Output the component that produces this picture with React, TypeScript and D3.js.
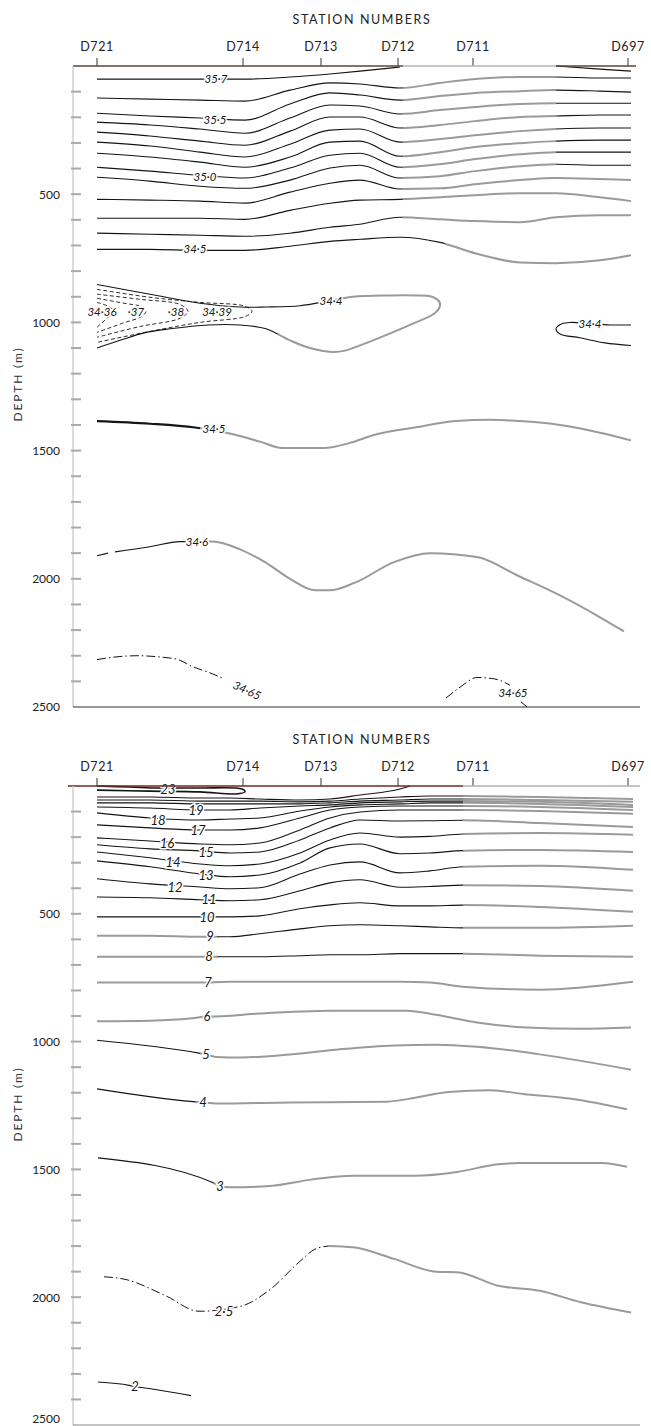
import React from 'react';
import * as d3 from 'd3';

const W = 651;
const H = 1426;
const FONT = "Lato, 'Open Sans', 'DejaVu Sans', sans-serif";

// ---------- stations (distance along section, km) ----------
const stationNames = ['D721', 'D714', 'D713', 'D712', 'D711', 'D697'];
const stationKm = [0, 146, 224, 301, 376, 531];
const depthTickLabels = [500, 1000, 1500, 2000, 2500];

// ---------- upper panel: salinity isolines (depth in m at each km) ----------
const salColKm = [0, 53, 103, 148, 193, 233, 263, 303, 343, 378, 423, 459, 503, 534];
const sal357aKm = [0, 53, 103, 148, 193, 233, 263, 303];
const sal357a = [51, 51, 51, 51, 43, 31, 20, 4];
const sal357bKm = [459, 503, 534];
const sal357b = [0, 12, 20];
const sal356 = [125, 129, 133, 137, 94, 66, 70, 86, 66, 51, 43, 43, 47, 47];
const sal355 = [184, 195, 203, 211, 148, 105, 113, 133, 117, 105, 98, 94, 98, 102];
const sal354 = [219, 230, 246, 262, 203, 152, 156, 187, 172, 160, 148, 145, 145, 145];
const sal353 = [258, 273, 293, 309, 254, 199, 199, 242, 230, 215, 199, 195, 191, 191];
const sal352 = [297, 312, 336, 355, 305, 250, 246, 297, 285, 270, 254, 246, 242, 242];
const sal351 = [340, 355, 375, 395, 355, 297, 293, 352, 336, 316, 301, 293, 289, 289];
const sal350 = [395, 410, 426, 437, 398, 348, 340, 395, 383, 363, 344, 336, 336, 336];
const sal349 = [434, 449, 469, 477, 445, 398, 387, 437, 430, 410, 391, 383, 387, 387];
const sal348 = [520, 523, 527, 535, 492, 457, 445, 480, 477, 461, 445, 437, 441, 445];
const sal347 = [594, 594, 594, 598, 563, 535, 523, 520, 512, 504, 496, 496, 512, 527];
const sal346 = [652, 656, 660, 664, 652, 629, 617, 590, 598, 605, 609, 590, 582, 582];
const sal345 = [715, 715, 719, 719, 703, 684, 676, 668, 688, 730, 766, 769, 758, 738];

const sal344LoopKm = [0, 53, 103, 143, 169, 203, 233, 256, 293, 318, 335, 343, 339, 313, 276, 248, 235, 213, 193, 169, 143, 111, 73, 48, 23, 0];
const sal344Loop = [852, 890, 925, 940, 940, 935, 915, 900, 895, 895, 900, 925, 960, 1010, 1070, 1110, 1115, 1100, 1070, 1025, 1010, 1010, 1025, 1040, 1070, 1100];
const sal344RightKm = [534, 513, 493, 474, 465, 459, 463, 483, 508, 534];
const sal344Right = [1010, 1010, 1005, 1000, 1005, 1025, 1045, 1060, 1080, 1090];

const sal3439Km = [0, 53, 103, 148, 155, 148, 103, 53, 0];
const sal3439 = [871, 902, 922, 937, 957, 977, 1000, 1035, 1078];
const sal3438Km = [0, 43, 83, 91, 83, 43, 0];
const sal3438 = [890, 910, 930, 957, 984, 1016, 1058];
const sal3437Km = [0, 28, 43, 49, 43, 28, 0];
const sal3437 = [906, 926, 937, 957, 980, 1000, 1039];
const sal3436Km = [0, 11, 17, 11, 0];
const sal3436 = [922, 937, 957, 980, 1019];

const sal345DeepKm = [0, 53, 98, 135, 163, 185, 227, 253, 276, 318, 359, 393, 422, 463, 503, 534];
const sal345Deep = [1385, 1395, 1410, 1435, 1465, 1490, 1490, 1470, 1440, 1410, 1385, 1380, 1385, 1400, 1430, 1460];
const sal346aKm = [0, 11];
const sal346a = [1910, 1900];
const sal346bKm = [18, 53, 83, 115, 143, 168, 193, 218, 233, 258, 297, 333, 380, 422, 463, 503, 527];
const sal346b = [1895, 1875, 1855, 1855, 1885, 1935, 2000, 2045, 2045, 2015, 1935, 1900, 1915, 1990, 2065, 2150, 2205];
const sal3465aKm = [0, 18, 40, 63, 81, 94, 115, 127];
const sal3465a = [2315, 2305, 2300, 2305, 2315, 2340, 2370, 2390];
const sal3465bKm = [349, 364, 380, 397, 413];
const sal3465b = [2465, 2420, 2385, 2390, 2415];
const sal3465cKm = [424, 430];
const sal3465c = [2480, 2500];

const salLabelText = ['35·7', '35·5', '35·0', '34·5', '34·36', '·37', '·38', '34·39', '34·4', '34·4', '34·5', '34·6', '34·65', '34·65'];
const salLabelKm = [119, 118, 108, 98, 5, 39, 79, 120, 234, 493, 117, 100, 150, 416];
const salLabelDepth = [51, 211, 434, 715, 960, 960, 960, 960, 915, 1005, 1415, 1855, 2435, 2445];

// ---------- lower panel: temperature isotherms ----------
const tmpColKm = [0, 53, 103, 133, 163, 203, 233, 263, 303, 333, 366, 443, 536];
const t23Km = [0, 33, 63, 103, 145, 148, 139, 103, 53, 0];
const t23 = [0, 4, 8, 8, 12, 23, 31, 23, 20, 16];
const t22Km = [0, 53, 103, 133, 163, 203, 233, 263, 303, 313];
const t22 = [43, 43, 47, 47, 51, 55, 51, 35, 12, 0];
const t21 = [55, 55, 59, 59, 59, 62, 59, 51, 43, 39, 39, 43, 51];
const t20 = [66, 66, 70, 70, 70, 70, 66, 59, 55, 51, 51, 55, 62];
const t19 = [82, 86, 94, 94, 86, 78, 74, 66, 62, 59, 59, 62, 74];
const t18 = [105, 125, 133, 129, 125, 98, 82, 74, 70, 66, 66, 70, 82];
const t17 = [152, 164, 172, 172, 164, 125, 94, 82, 78, 78, 78, 82, 94];
const t16 = [203, 215, 227, 230, 223, 172, 125, 102, 94, 94, 94, 98, 109];
const t15 = [230, 246, 254, 262, 258, 211, 164, 133, 137, 136, 134, 145, 160];
const t14 = [258, 281, 305, 312, 305, 262, 211, 184, 200, 197, 188, 184, 191];
const t13 = [293, 316, 344, 355, 348, 301, 242, 227, 265, 262, 253, 250, 258];
const t12 = [363, 383, 395, 402, 398, 344, 309, 297, 340, 332, 316, 312, 328];
const t11 = [434, 437, 445, 449, 445, 410, 379, 367, 396, 393, 388, 391, 410];
const t10 = [512, 512, 512, 512, 508, 480, 465, 457, 469, 469, 466, 473, 492];
const t9 = [586, 586, 590, 590, 578, 559, 547, 543, 547, 551, 555, 555, 547];
const t8 = [668, 668, 668, 668, 668, 664, 660, 660, 656, 656, 656, 664, 668];
const t7 = [769, 769, 769, 766, 766, 766, 766, 766, 766, 769, 785, 797, 766];
const t6Km = [0, 53, 93, 110, 119, 163, 235, 310, 339, 380, 430, 483, 534];
const t6 = [920, 918, 910, 902, 902, 890, 879, 879, 895, 925, 945, 950, 945];
const t5Km = [0, 102, 109, 119, 144, 193, 243, 297, 339, 380, 443, 534];
const t5 = [995, 1045, 1050, 1060, 1062, 1050, 1030, 1015, 1012, 1020, 1050, 1110];
const t4Km = [0, 96, 106, 119, 193, 290, 318, 351, 393, 426, 476, 530];
const t4 = [1185, 1235, 1238, 1242, 1238, 1235, 1220, 1197, 1190, 1205, 1225, 1265];
const t3Km = [1, 115, 123, 133, 173, 214, 256, 318, 360, 401, 422, 505, 530];
const t3 = [1455, 1550, 1565, 1570, 1565, 1540, 1525, 1525, 1510, 1480, 1475, 1475, 1490];
const t25Km = [7, 28, 69, 102, 144, 173, 202, 218, 231, 256, 297, 339, 360, 401, 443, 484, 534];
const t25 = [1920, 1930, 1995, 2055, 2035, 1970, 1863, 1812, 1800, 1805, 1850, 1900, 1902, 1955, 1975, 2020, 2060];
const t2Km = [1, 32, 38, 48, 94];
const t2 = [2332, 2345, 2350, 2355, 2385];

const tmpLabelText = ['23', '19', '18', '17', '16', '15', '14', '13', '12', '11', '10', '9', '8', '7', '6', '5', '4', '3', '2·5', '2'];
const tmpLabelKm = [71, 99, 61, 101, 70, 109, 76, 109, 78, 112, 110, 113, 112, 111, 110, 109, 106, 123, 127, 38];
const tmpLabelDepth = [12, 94, 133, 172, 223, 258, 297, 348, 395, 445, 512, 590, 668, 769, 902, 1050, 1238, 1566, 2055, 2350];

// ---------- scales ----------
const xS = d3.scaleLinear().domain([0, 531]).range([97, 628]);
const yTopS = d3.scaleLinear().domain([0, 2500]).range([66, 707]);
const yBotS = d3.scaleLinear().domain([0, 2500]).range([786, 1425]);

type Pt = [number, number];
type Series = { km: number[]; d: number[]; loop?: boolean; inkW?: number };
type Lbl = { t: string; km: number; d: number; rot?: number };

function makePath(s: Series, yS: d3.ScaleLinear<number, number>): string {
  const pts: Pt[] = s.km.map((k, i) => [k, s.d[i]] as Pt);
  const gen = d3
    .line<Pt>()
    .x((p) => xS(p[0]))
    .y((p) => yS(p[1]))
    .curve(s.loop ? d3.curveCatmullRom.alpha(0.5) : d3.curveMonotoneX);
  return gen(pts) || '';
}

const sl = (km: number[], d: number[], i0: number, i1: number): Series => ({ km: km.slice(i0, i1), d: d.slice(i0, i1) });

const topSolid: Series[] = [
  { km: sal357aKm, d: sal357a },
  { km: sal357bKm, d: sal357b },
  ...[sal356, sal355, sal354, sal353, sal352, sal351, sal350, sal349, sal348, sal347, sal346, sal345].map((d) => ({ km: salColKm, d })),
  { km: sal344LoopKm, d: sal344Loop, loop: true },
  { km: sal344RightKm, d: sal344Right, loop: true },
  { km: sal345DeepKm, d: sal345Deep, inkW: 2.1 },
  { km: sal346aKm, d: sal346a },
  { km: sal346bKm, d: sal346b },
];
const topDashed: Series[] = [
  { km: sal3439Km, d: sal3439, loop: true },
  { km: sal3438Km, d: sal3438, loop: true },
  { km: sal3437Km, d: sal3437, loop: true },
  { km: sal3436Km, d: sal3436, loop: true },
];
const topDashDot: Series[] = [
  { km: sal3465aKm, d: sal3465a },
  { km: sal3465bKm, d: sal3465b },
  { km: sal3465cKm, d: sal3465c },
];
const topLabels: Lbl[] = salLabelText.map((t, i) => ({ t, km: salLabelKm[i], d: salLabelDepth[i], rot: i === 12 ? 25 : 0 }));

const botSolid: Series[] = [
  { km: t23Km, d: t23, loop: true, inkW: 1.6 },
  { km: t22Km, d: t22 },
  ...[t21, t20, t19, t18, t17, t16, t15, t14, t13, t12, t11, t10, t9, t8, t7].map((d) => ({ km: tmpColKm, d })),
  { km: t6Km, d: t6 },
  { km: t5Km, d: t5 },
  { km: t4Km, d: t4 },
  { km: t3Km, d: t3 },
  { km: t2Km, d: t2 },
  sl(t25Km, t25, 8, t25Km.length),
];
const botDashDot: Series[] = [sl(t25Km, t25, 0, 9)];
const botLabels: Lbl[] = tmpLabelText.map((t, i) => ({ t, km: tmpLabelKm[i], d: tmpLabelDepth[i] }));

// regions where the original drawing is crisp black ink (pixel layout)
const topInk = [
  [60, 58, 403, 262],
  [403, 228, 445, 262],
  [556, 58, 640, 172],
  [60, 262, 318, 309],
  [60, 309, 278, 360],
  [60, 405, 200, 440],
  [60, 530, 186, 565],
  [540, 310, 640, 350],
];
const botInk = [
  [60, 780, 463, 922],
  [217, 922, 463, 962],
  [60, 1035, 200, 1060],
  [60, 1084, 196, 1108],
  [60, 1150, 214, 1190],
  [60, 1375, 200, 1405],
];

type PanelProps = {
  pid: string;
  yS: d3.ScaleLinear<number, number>;
  solid: Series[];
  dashed: Series[];
  dashdot: Series[];
  labels: Lbl[];
  ink: number[][];
  labelSize: number;
  topSegs: [number, number, string][];
  bottomStroke: string;
  lastLabelLift: number;
};

function Panel({ pid, yS, solid, dashed, dashdot, labels, ink, labelSize, topSegs, bottomStroke, lastLabelLift }: PanelProps) {
  const y0 = yS(0);
  const y1 = yS(2500);
  const minor = d3.range(100, 2500, 100);
  const ink2 = '#151515';
  return (
    <g>
      <defs>
        <clipPath id={`ink-${pid}`}>
          {ink.map((r, i) => (
            <rect key={i} x={r[0]} y={r[1]} width={r[2] - r[0]} height={r[3] - r[1]} />
          ))}
        </clipPath>
        <mask id={`gray-${pid}`} maskUnits="userSpaceOnUse" x={0} y={0} width={W} height={H}>
          <rect x={0} y={0} width={W} height={H} fill="#fff" />
          {ink.map((r, i) => (
            <rect key={i} x={r[0]} y={r[1]} width={r[2] - r[0]} height={r[3] - r[1]} fill="#000" />
          ))}
        </mask>
        <filter id={`soft-${pid}`} filterUnits="userSpaceOnUse" x={0} y={0} width={W} height={H}>
          <feGaussianBlur stdDeviation={0.55} />
        </filter>
      </defs>

      <g mask={`url(#gray-${pid})`}>
        <g filter={`url(#soft-${pid})`} fill="none" stroke="#9a9a9a" strokeWidth={2}>
          {solid.map((s, i) => (
            <path key={i} d={makePath(s, yS)} />
          ))}
        </g>
      </g>
      <g clipPath={`url(#ink-${pid})`} fill="none" stroke={ink2}>
        {solid.map((s, i) => (
          <path key={i} d={makePath(s, yS)} strokeWidth={s.inkW ?? 1.1} />
        ))}
      </g>
      <g fill="none" stroke={ink2} strokeWidth={0.9} strokeDasharray="4 2.5">
        {dashed.map((s, i) => (
          <path key={i} d={makePath(s, yS)} />
        ))}
      </g>
      <g fill="none" stroke={ink2} strokeWidth={1} strokeDasharray="9 3 1.5 3">
        {dashdot.map((s, i) => (
          <path key={i} d={makePath(s, yS)} />
        ))}
      </g>

      {labels.map((l, i) => {
        const lx = xS(l.km);
        const ly = yS(l.d);
        return (
          <text
            key={i}
            x={lx}
            y={ly}
            dy="0.36em"
            textAnchor="middle"
            fontSize={labelSize}
            fontStyle="italic"
            fontFamily={FONT}
            fill="#161616"
            stroke="#fff"
            strokeWidth={3}
            style={{ paintOrder: 'stroke' }}
            transform={l.rot ? `rotate(${l.rot},${lx},${ly})` : undefined}
          >
            {l.t}
          </text>
        );
      })}

      <text x={362} y={y0 - 42} textAnchor="middle" fontSize={12.5} letterSpacing={1.6} fill="#222" fontFamily={FONT}>
        STATION NUMBERS
      </text>
      {stationNames.map((n, i) => (
        <g key={n}>
          <text x={xS(stationKm[i])} y={y0 - 15} textAnchor="middle" fontSize={12.5} letterSpacing={0.6} fill="#222" fontFamily={FONT}>
            {n}
          </text>
          <line x1={xS(stationKm[i])} x2={xS(stationKm[i])} y1={y0 - 8} y2={y0} stroke="#333" strokeWidth={1} />
        </g>
      ))}
      {topSegs.map((s, i) => (
        <line key={i} x1={s[0]} x2={s[1]} y1={y0} y2={y0} stroke={s[2]} strokeWidth={1.4} />
      ))}
      <line x1={73} x2={73} y1={y0} y2={y1} stroke="#cdcdcd" strokeWidth={1.4} />
      {minor.map((m) => (
        <line key={m} x1={71} x2={81} y1={yS(m)} y2={yS(m)} stroke="#a9a9a9" strokeWidth={2} />
      ))}
      {depthTickLabels.map((v, i) => (
        <text
          key={v}
          x={60}
          y={yS(v) - (i === depthTickLabels.length - 1 ? lastLabelLift : 0)}
          dy="0.36em"
          textAnchor="end"
          fontSize={12}
          fill="#222"
          fontFamily={FONT}
        >
          {v}
        </text>
      ))}
      <text
        transform={`translate(18,${y0 + 318}) rotate(-90)`}
        textAnchor="middle"
        dy="0.36em"
        fontSize={12}
        letterSpacing={1.8}
        fill="#333"
        fontFamily={FONT}
      >
        DEPTH (m)
      </text>
      <line x1={73} x2={640} y1={y1} y2={y1} stroke={bottomStroke} strokeWidth={1.2} />
    </g>
  );
}

export default function App() {
  return (
    <svg
      width={W}
      height={H}
      viewBox={`0 0 ${W} ${H}`}
      style={{ position: 'absolute', left: 0, top: 0, display: 'block', background: '#fff' }}
    >
      <rect x={0} y={0} width={W} height={H} fill="#fff" />
      <Panel
        pid="sal"
        yS={yTopS}
        solid={topSolid}
        dashed={topDashed}
        dashdot={topDashDot}
        labels={topLabels}
        ink={topInk}
        labelSize={11.5}
        topSegs={[
          [73, 403, '#5b4738'],
          [403, 556, '#b5b5b5'],
          [556, 636, '#5b4738'],
        ]}
        bottomStroke="#333"
        lastLabelLift={0}
      />
      <Panel
        pid="tmp"
        yS={yBotS}
        solid={botSolid}
        dashed={[]}
        dashdot={botDashDot}
        labels={botLabels}
        ink={botInk}
        labelSize={13}
        topSegs={[
          [68, 463, '#6f2b20'],
          [463, 640, '#b0b0b0'],
        ]}
        bottomStroke="#888"
        lastLabelLift={6}
      />
    </svg>
  );
}
